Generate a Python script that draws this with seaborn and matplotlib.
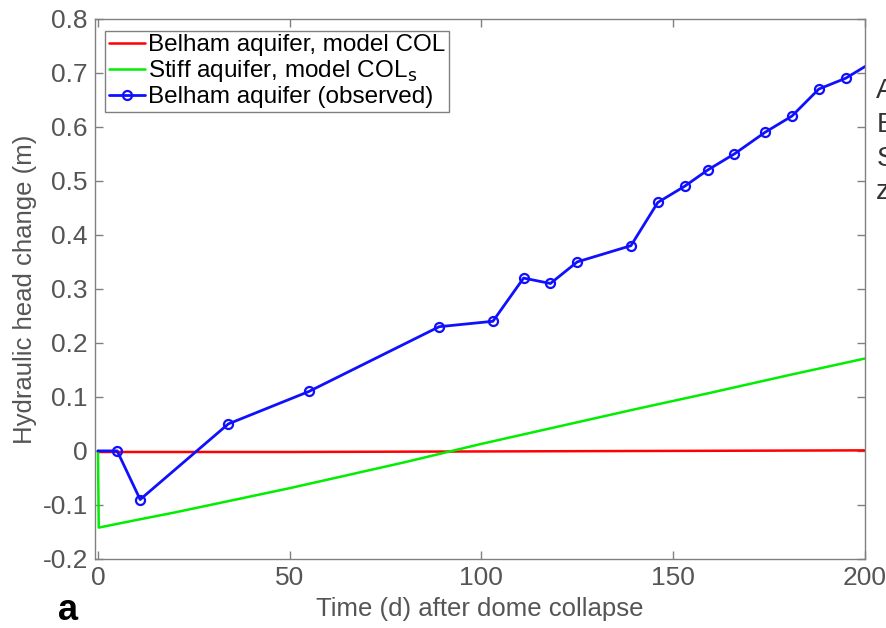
import matplotlib
matplotlib.use("Agg")
import matplotlib.pyplot as plt
import seaborn as sns
import pandas as pd

# Data
obs_t = [0, 5, 11, 34, 55, 89, 103, 111, 118, 125, 139, 146, 153, 159, 166, 174, 181, 188, 195, 202]
obs_h = [0, 0, -0.09, 0.05, 0.11, 0.23, 0.24, 0.32, 0.31, 0.35, 0.38, 0.46, 0.49, 0.52, 0.55, 0.59, 0.62, 0.67, 0.69, 0.72]

col_t = [0, 0.2, 20, 50, 100, 150, 200]
col_h = [0, -0.002, -0.002, -0.002, -0.001, 0.0, 0.001]

cols_t = [0, 0.2, 10, 20, 30, 40, 50, 60, 70, 80, 90, 100, 120, 140, 160, 180, 200]
cols_h = [0, -0.142, -0.128, -0.114, -0.099, -0.084, -0.069, -0.053, -0.037,
          -0.021, -0.004, 0.013, 0.045, 0.077, 0.108, 0.140, 0.171]

xticks = [0, 50, 100, 150, 200]
yticks = [-0.2, -0.1, 0, 0.1, 0.2, 0.3, 0.4, 0.5, 0.6, 0.7, 0.8]
ytick_labels = ["-0.2", "-0.1", "0", "0.1", "0.2", "0.3", "0.4", "0.5", "0.6", "0.7", "0.8"]

sns.set_theme(style="white")
plt.rcParams["font.family"] = ["Liberation Sans", "DejaVu Sans"]

fig = plt.figure(figsize=(8.87, 6.28), dpi=100)
ax = fig.add_axes([0.107, 0.110, 0.868, 0.860])

df_col = pd.DataFrame({"t": col_t, "h": col_h})
df_cols = pd.DataFrame({"t": cols_t, "h": cols_h})
df_obs = pd.DataFrame({"t": obs_t, "h": obs_h})

sns.lineplot(data=df_col, x="t", y="h", ax=ax, color="#ff0000", lw=1.8,
             label="Belham aquifer, model COL", estimator=None, sort=False)
sns.lineplot(data=df_cols, x="t", y="h", ax=ax, color="#00ee00", lw=1.8,
             label="Stiff aquifer, model COL$_\\mathrm{s}$", estimator=None, sort=False)
sns.lineplot(data=df_obs, x="t", y="h", ax=ax, color="#1010ff", lw=2.0,
             marker="o", markersize=6.5, markerfacecolor="none", markeredgecolor="#1010ff",
             markeredgewidth=1.6, markevery=list(range(1, len(obs_t))),
             label="Belham aquifer (observed)", estimator=None, sort=False)

ax.set_xlim(-0.8, 200)
ax.set_ylim(-0.2, 0.8)
ax.set_xticks(xticks)
ax.set_yticks(yticks)
ax.set_yticklabels(ytick_labels)

gray = "#555555"
for s in ax.spines.values():
    s.set_color("#808080")
    s.set_linewidth(1.0)
    s.set_visible(True)
ax.tick_params(direction="in", length=6, width=1.0, color="#808080",
               labelsize=19, labelcolor=gray, top=True, right=True,
               bottom=True, left=True, labeltop=False, labelright=False, pad=5)
ax.set_xlabel("Time (d) after dome collapse", fontsize=18.5, color=gray, labelpad=5)
ax.set_ylabel("Hydraulic head change (m)", fontsize=18.5, color=gray, labelpad=4)

leg = ax.legend(loc="upper left", bbox_to_anchor=(0.0135, 0.978), fontsize=17.5,
                frameon=True, fancybox=False, edgecolor="#808080", framealpha=1,
                handlelength=1.5, handletextpad=0.1, labelspacing=0.08,
                borderpad=0.15, borderaxespad=0)
leg.get_frame().set_linewidth(1.0)
for t in leg.get_texts():
    t.set_color("black")

fig.text(0.065, 0.013, "a", fontsize=26, fontweight="bold", color="black")
fig.text(0.988, 0.875, "A\nE\nS\nz", fontsize=20, color="#333333", va="top",
         ha="left", linespacing=1.38)

fig.savefig("out.png", dpi=100)
